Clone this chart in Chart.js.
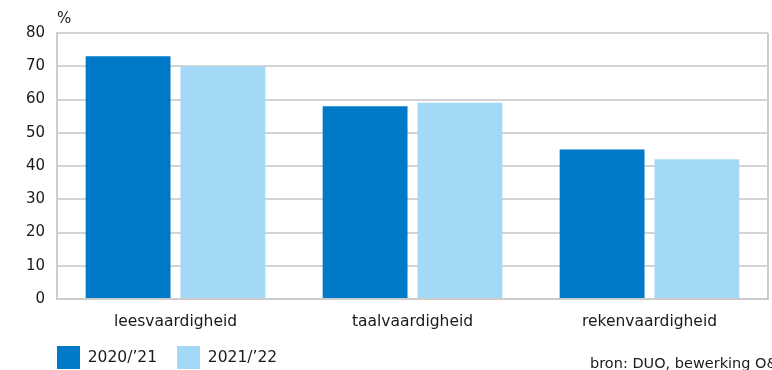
<!DOCTYPE html>
<html>
<head>
<meta charset="utf-8">
<script src="https://cdn.jsdelivr.net/npm/chart.js@4/dist/chart.umd.min.js"></script>
<style>
  html, body { margin: 0; padding: 0; background: #fff; overflow: hidden; }
  #wrap { position: relative; width: 772px; height: 370px; }
</style>
</head>
<body>
<div id="wrap"><canvas id="chart"></canvas></div>
<script>
// --- data ---
const categories = ['leesvaardigheid', 'taalvaardigheid', 'rekenvaardigheid'];
const seriesNames = ['2020/\u201921', '2021/\u201922'];
const values2021 = [73, 58, 45];
const values2122 = [70, 59, 42];
const yTicks = [0, 10, 20, 30, 40, 50, 60, 70, 80];

const FONT = "'DejaVu Sans', 'Noto Sans', sans-serif";

// extra texts: the % unit and the source line (cut off at the right edge, like the original)
const extraText = {
    id: 'extraText',
    afterDraw(chart) {
        const ctx = chart.ctx;
        const area = chart.chartArea;
        ctx.save();
        ctx.fillStyle = '#1a1a1a';
        ctx.font = '15px ' + FONT;
        ctx.textAlign = 'left';
        ctx.textBaseline = 'alphabetic';
        ctx.fillText('%', area.left, 23);
        ctx.font = '14.5px ' + FONT;
        ctx.fillText('bron: DUO, bewerking O&S', 590, 368);
        ctx.restore();
    }
};

// right border of the plot
const frame = {
    id: 'frame',
    beforeDatasetsDraw(chart) {
        const ctx = chart.ctx;
        const a = chart.chartArea;
        ctx.save();
        ctx.strokeStyle = '#cccccc';
        ctx.lineWidth = 2;
        ctx.beginPath();
        ctx.moveTo(a.right, a.top);
        ctx.lineTo(a.right, a.bottom);
        ctx.stroke();
        ctx.restore();
    }
};

// move the legend under the plot, starting at the y axis
const legendShift = {
    id: 'legendShift',
    afterLayout(chart) {
        const lg = chart.legend;
        if (!lg) return;
        const dx = chart.chartArea.left - 20;
        lg.left += dx;
        lg.right += dx;
        lg.top = 326;
        lg.bottom = chart.height;
    }
};

new Chart(document.getElementById('chart'), {
    type: 'bar',
    data: {
        labels: categories,
        datasets: [
            {
                label: seriesNames[0],
                data: values2021,
                backgroundColor: '#0079c8',
                categoryPercentage: 0.80,
                barPercentage: 0.895
            },
            {
                label: seriesNames[1],
                data: values2122,
                backgroundColor: '#a3d9f7',
                categoryPercentage: 0.80,
                barPercentage: 0.895
            }
        ]
    },
    options: {
        responsive: true,
        maintainAspectRatio: false,
        animation: false,
        layout: { padding: { left: 0, right: 4, top: 33, bottom: 0 } },
        plugins: {
            tooltip: { enabled: false },
            legend: {
                position: 'bottom',
                align: 'start',
                maxHeight: 35,
                labels: {
                    boxWidth: 23,
                    boxHeight: 23,
                    padding: 20,
                    color: '#1a1a1a',
                    font: { family: FONT, size: 15.5 }
                }
            }
        },
        scales: {
            x: {
                grid: { display: false, drawTicks: false },
                border: { display: true, color: '#cccccc', width: 2 },
                ticks: {
                    color: '#1a1a1a',
                    padding: 14,
                    font: { family: FONT, size: 15.5 }
                },
                afterFit(scale) { scale.height = 36; }
            },
            y: {
                min: 0,
                max: 80,
                afterBuildTicks(scale) { scale.ticks = yTicks.map(v => ({ value: v })); },
                grid: { color: '#d4d4d4', lineWidth: 2, drawTicks: false },
                border: { display: true, color: '#cccccc', width: 2 },
                ticks: {
                    color: '#1a1a1a',
                    padding: 12,
                    font: { family: FONT, size: 15 }
                },
                afterFit(scale) { scale.width = 57; }
            }
        }
    },
    plugins: [frame, legendShift, extraText]
});
</script>
</body>
</html>
